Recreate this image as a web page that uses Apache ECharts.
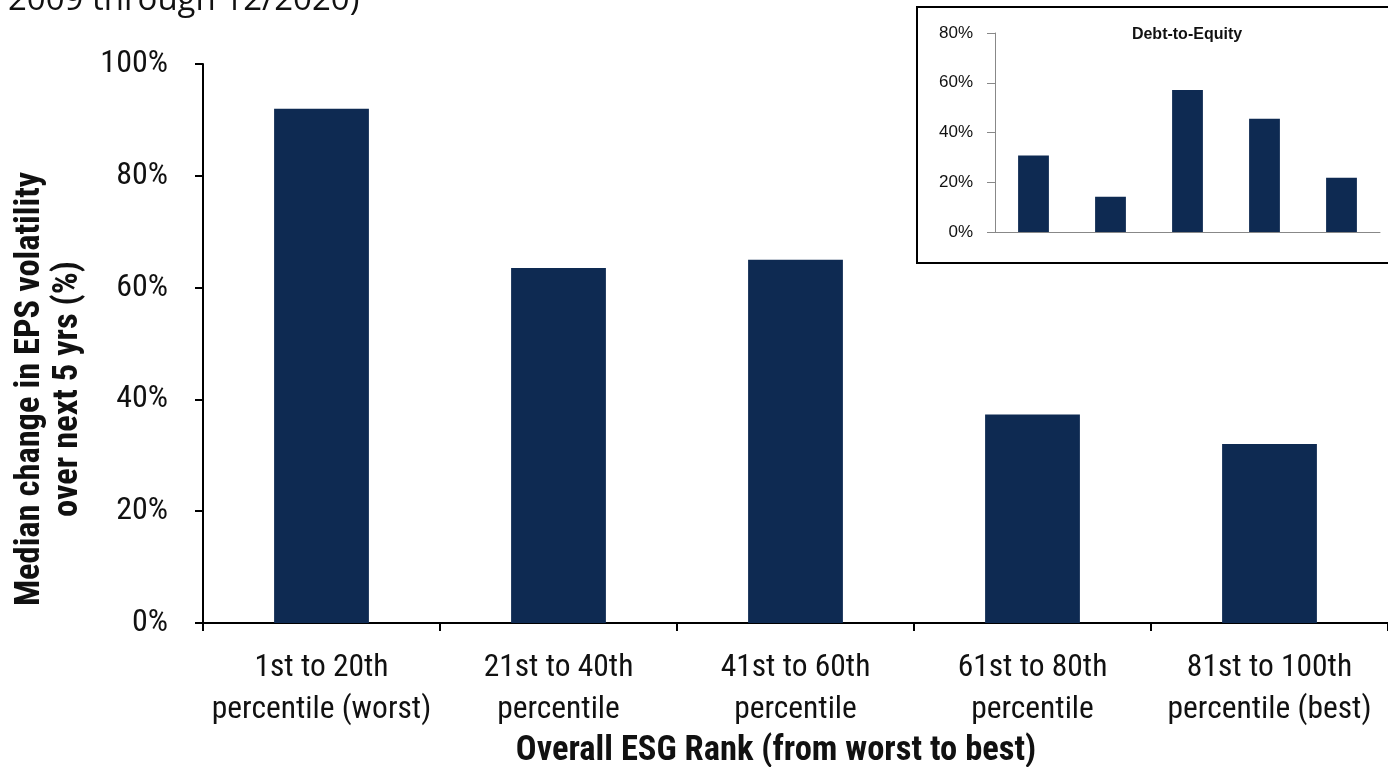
<!DOCTYPE html>
<html>
<head>
<meta charset="utf-8">
<script src="https://cdn.jsdelivr.net/npm/echarts@6/dist/echarts.min.js"></script>
<style>
  html, body { margin: 0; padding: 0; background: #fff; }
  #chart { width: 1388px; height: 767px; }
</style>
</head>
<body>
<div id="chart"></div>
<script>
// ESG rank buckets and median change in EPS volatility (%)
const categories = [
  '1st to 20th\npercentile (worst)',
  '21st to 40th\npercentile',
  '41st to 60th\npercentile',
  '61st to 80th\npercentile',
  '81st to 100th\npercentile (best)'
];
const epsVolChange = [92, 63.5, 65, 37.3, 32];
const mainTicks = [0, 20, 40, 60, 80, 100];

// Inset: debt-to-equity by the same buckets (%)
const insetTitle = 'Debt-to-Equity';
const debtToEquity = [30.8, 14.2, 57.1, 45.5, 21.8];

const BAR = '#0e2a52';
const NARROW = '"Liberation Sans Narrow", "Arial Narrow", "Roboto Condensed", "Liberation Sans", sans-serif';
const SANS = '"Liberation Sans", Arial, sans-serif';

const chart = echarts.init(document.getElementById('chart'), null, { renderer: 'canvas' });

chart.setOption({
  backgroundColor: '#fff',
  animation: false,
  grid: [
    { left: 203, top: 64, width: 1186, height: 559 },
    { left: 995, top: 33, width: 385, height: 199 }
  ],
  xAxis: [
    {
      gridIndex: 0,
      type: 'category',
      data: categories,
      boundaryGap: true,
      axisLine: { lineStyle: { color: '#000', width: 2 } },
      axisTick: { show: true, length: 8, inside: false, lineStyle: { color: '#000', width: 2 } },
      axisLabel: {
        interval: 0, margin: 24, color: '#111',
        fontFamily: NARROW, fontSize: 31.5, lineHeight: 42
      }
    },
    {
      gridIndex: 1,
      type: 'category',
      data: categories.map(() => ''),
      boundaryGap: true,
      axisLine: { lineStyle: { color: '#888', width: 1 } },
      axisTick: { show: false },
      axisLabel: { show: false }
    }
  ],
  yAxis: [
    {
      gridIndex: 0,
      type: 'value',
      min: 0, max: 100, interval: 20,
      axisLine: { show: true, lineStyle: { color: '#000', width: 2 } },
      axisTick: { show: true, length: 8, lineStyle: { color: '#000', width: 2 } },
      splitLine: { show: false },
      axisLabel: {
        margin: 35, color: '#111', fontFamily: NARROW, fontSize: 32,
        formatter: v => mainTicks.includes(v) ? v + '%' : ''
      }
    },
    {
      gridIndex: 1,
      type: 'value',
      min: 0, max: 80, interval: 20,
      axisLine: { show: true, lineStyle: { color: '#888', width: 1 } },
      axisTick: { show: true, length: 8, lineStyle: { color: '#888', width: 1 } },
      splitLine: { show: false },
      axisLabel: {
        margin: 22, color: '#111', fontFamily: SANS, fontSize: 17,
        formatter: v => v + '%'
      }
    }
  ],
  series: [
    {
      type: 'bar', xAxisIndex: 0, yAxisIndex: 0,
      data: epsVolChange, barWidth: '40%',
      itemStyle: { color: BAR }
    },
    {
      type: 'bar', xAxisIndex: 1, yAxisIndex: 1,
      data: debtToEquity, barWidth: '40%',
      itemStyle: { color: BAR }
    }
  ],
  graphic: [
    {
      type: 'text', left: 8, top: -16, z: 10,
      style: { text: '2009 through 12/2020)', fontFamily: '"Open Sans", "Noto Sans", sans-serif', fontSize: 33, fill: '#111' }
    },
    {
      type: 'rect', z: 0,
      shape: { x: 917, y: 7, width: 480, height: 256 },
      style: { fill: '#fff', stroke: '#000', lineWidth: 2 }
    },
    {
      type: 'text', z: 10, x: 1187, y: 35,
      style: { text: insetTitle, fontFamily: SANS, fontWeight: 'bold', fontSize: 16, fill: '#111', align: 'center', verticalAlign: 'middle' }
    },
    {
      type: 'text', z: 10, x: 49, y: 389, rotation: Math.PI / 2,
      style: {
        text: 'Median change in EPS volatility\nover next 5 yrs (%)',
        fontFamily: NARROW, fontWeight: 'bold', fontSize: 34.5, lineHeight: 38,
        fill: '#111', align: 'center', verticalAlign: 'middle'
      }
    },
    {
      type: 'text', z: 10, x: 776, y: 751,
      style: {
        text: 'Overall ESG Rank (from worst to best)',
        fontFamily: NARROW, fontWeight: 'bold', fontSize: 34.5,
        fill: '#111', align: 'center', verticalAlign: 'middle'
      }
    }
  ]
});
</script>
</body>
</html>
